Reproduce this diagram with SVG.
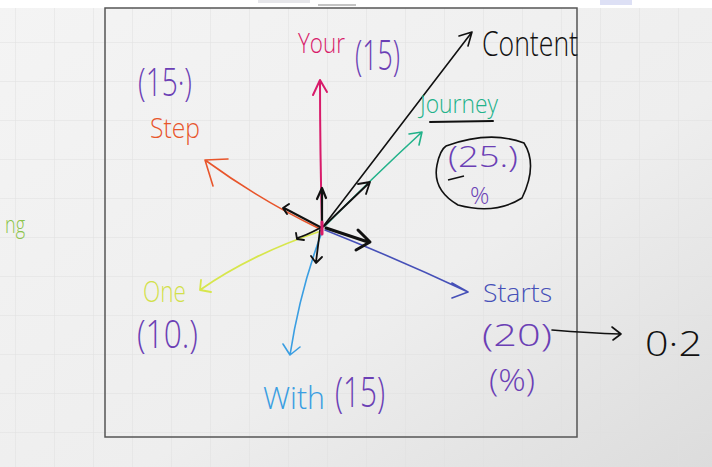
<svg xmlns="http://www.w3.org/2000/svg" width="712" height="467" viewBox="0 0 712 467">
<defs>
<linearGradient id="bg" x1="0" y1="0" x2="1" y2="1">
<stop offset="0" stop-color="#f4f4f4"/>
<stop offset="0.6" stop-color="#eeeeee"/>
<stop offset="1" stop-color="#dcdcdc"/>
</linearGradient>
<pattern id="grid" x="15" y="3" width="39" height="39" patternUnits="userSpaceOnUse">
<path d="M0 0H39M0 0V39" fill="none" stroke="#e0e0e0" stroke-width="1"/>
</pattern>
<style>
.t{font-family:"Open Sans","Liberation Sans",sans-serif;font-weight:300}
.c{fill:none;stroke-linecap:round;stroke-linejoin:round}
.purple{fill:#6b3fb5}
</style>
</defs>
<rect width="712" height="467" fill="url(#bg)"/>
<rect width="712" height="467" fill="url(#grid)"/>
<!-- top bar -->
<rect x="0" y="0" width="712" height="8" fill="#ffffff"/>
<rect x="258" y="0" width="52" height="3" fill="#e6e6ea"/>
<line x1="318" y1="5" x2="356" y2="5" stroke="#888" stroke-width="1"/>
<rect x="600" y="0" width="32" height="5" fill="#dde0f5"/>
<!-- frame -->
<rect x="105" y="8" width="472" height="429" fill="none" stroke="#555" stroke-width="1.5"/>

<g id="connectors" class="c">
<!-- Your (pink) -->
<path d="M322 228 Q320 150 320 80 M313 95 L320 80 L327 92" stroke="#d81b6a" stroke-width="2"/>
<!-- Content (black) -->
<path d="M322 228 L472 32 M459 36 L472 32 L468 46" stroke="#111" stroke-width="1.6"/>
<!-- Journey (teal) -->
<path d="M325 226 Q370 180 422 132 M409 134 L422 132 L419 145" stroke="#22b28a" stroke-width="1.6"/>
<!-- Step (orange) -->
<path d="M318 228 Q260 200 205 160 M228 159 L205 160 L213 186" stroke="#e8552b" stroke-width="1.6"/>
<!-- One (yellow-green) -->
<path d="M318 232 Q250 255 200 290 M201 280 L200 290 L211 292" stroke="#d7e64c" stroke-width="1.8"/>
<!-- With (blue) -->
<path d="M322 232 Q300 290 290 355 M283 344 L290 355 L300 347" stroke="#3a9ee2" stroke-width="1.6"/>
<!-- Starts (navy) -->
<path d="M325 230 Q400 260 468 292 M452 283 L468 292 L452 298" stroke="#4650b8" stroke-width="1.6"/>
<!-- small black vectors -->
<path d="M322 228 L322 190 M317 199 L322 188 L326 198" stroke="#111" stroke-width="2.2"/>
<path d="M322 228 L284 208 M289 204 L283 208 L287 214" stroke="#111" stroke-width="2"/>
<path d="M320 228 Q305 236 297 238 M296 233 L297 239 L304 240" stroke="#111" stroke-width="1.8"/>
<path d="M320 230 L316 262 M311 256 L316 263 L322 257" stroke="#111" stroke-width="1.8"/>
<path d="M326 228 L368 242 M358 230 L370 242 L356 250" stroke="#111" stroke-width="3"/>
<path d="M324 226 L368 184 M358 184 L370 182 L366 194" stroke="#111" stroke-width="1.8"/>
<path d="M322 222 L322 234" stroke="#d81b6a" stroke-width="3"/>
<!-- Starts to 0.2 -->
<path d="M552 330 Q590 333 620 334 M612 327 L621 334 L613 340" stroke="#111" stroke-width="1.6"/>
<!-- Journey underline -->
<path d="M430 122 L493 121" stroke="#111" stroke-width="2"/>
</g>

<g id="node-your">
<text x="298" y="53" class="t" font-size="28" fill="#d81b6a" textLength="47" lengthAdjust="spacingAndGlyphs">Your</text>
<text x="355" y="70" class="t purple" font-size="42" textLength="45" lengthAdjust="spacingAndGlyphs">(15)</text>
</g>
<g id="node-content">
<text x="482" y="56" class="t" font-size="34" fill="#111" textLength="96" lengthAdjust="spacingAndGlyphs">Content</text>
</g>
<g id="node-step">
<text x="138" y="96" class="t purple" font-size="38" textLength="54" lengthAdjust="spacingAndGlyphs">(15·)</text>
<text x="150" y="138" class="t" font-size="28" fill="#e8552b" textLength="50" lengthAdjust="spacingAndGlyphs">Step</text>
</g>
<g id="node-journey">
<text x="420" y="113" class="t" font-size="26" fill="#22b28a" textLength="78" lengthAdjust="spacingAndGlyphs">Journey</text>
<text x="448" y="167" class="t purple" font-size="30" textLength="70" lengthAdjust="spacingAndGlyphs">(25.)</text>
<text x="470" y="204" class="t purple" font-size="24">%</text>
<path d="M446 146 Q490 130 524 143 Q538 165 522 198 Q495 215 458 205 Q432 190 437 165 Q440 150 446 146" fill="none" stroke="#111" stroke-width="1.6"/>
<path d="M448 180 L464 176" stroke="#111" stroke-width="1.6"/>
</g>
<g id="node-one">
<text x="143" y="302" class="t" font-size="30" fill="#d2e04a" textLength="43" lengthAdjust="spacingAndGlyphs">One</text>
<text x="137" y="348" class="t purple" font-size="38" textLength="61" lengthAdjust="spacingAndGlyphs">(10.)</text>
</g>
<g id="node-with">
<text x="263" y="409" class="t" font-size="32" fill="#3a9ee2" textLength="62" lengthAdjust="spacingAndGlyphs">With</text>
<text x="335" y="407" class="t purple" font-size="42" textLength="50" lengthAdjust="spacingAndGlyphs">(15)</text>
</g>
<g id="node-starts">
<text x="483" y="302" class="t" font-size="26" fill="#4650b8" textLength="69" lengthAdjust="spacingAndGlyphs">Starts</text>
<text x="482" y="346" class="t purple" font-size="32" textLength="70" lengthAdjust="spacingAndGlyphs">(20)</text>
<text x="489" y="391" class="t purple" font-size="32" textLength="46" lengthAdjust="spacingAndGlyphs">(%)</text>
</g>
<g id="node-value">
<text x="645" y="356" class="t" font-size="34" fill="#111" textLength="57" lengthAdjust="spacingAndGlyphs">0·2</text>
</g>
<g id="node-ng">
<text x="5" y="233" class="t" font-size="24" fill="#8bc34a" textLength="20" lengthAdjust="spacingAndGlyphs">ng</text>
</g>
</svg>
